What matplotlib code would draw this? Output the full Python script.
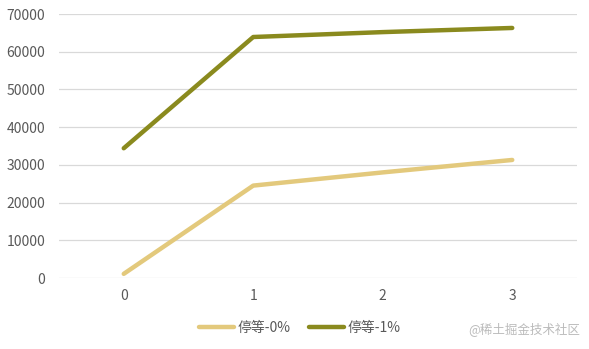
import matplotlib
matplotlib.use("Agg")
import matplotlib.pyplot as plt

plt.rcParams['font.family'] = ['Noto Sans CJK SC', 'DejaVu Sans']

x_labels = ["0", "1", "2", "3"]
stop_0 = [1100, 24500, 28000, 31300]
stop_1 = [34400, 63900, 65200, 66300]

fig = plt.figure(figsize=(5.89, 3.49), dpi=100)
ax = fig.add_axes([59 / 589, 1 - 278 / 349, (577 - 59) / 589, (278 - 14) / 349])

x = range(len(x_labels))
ax.plot(x, stop_0, color='#E3C97C', lw=3.2, solid_capstyle='round', label='停等-0%')
ax.plot(x, stop_1, color='#8A8A1E', lw=3.2, solid_capstyle='round', label='停等-1%')

ax.set_xlim(-0.5, 3.5)
ax.set_ylim(0, 70000)
ax.set_yticks(range(0, 70001, 10000))
ax.set_xticks(list(x))
ax.set_xticklabels(x_labels)
ax.grid(axis='y', color='#D9D9D9', lw=0.9)
ax.set_axisbelow(True)
for s in ax.spines.values():
    s.set_visible(False)
ax.tick_params(length=0, labelsize=10, colors='#595959', pad=8)
ax.tick_params(axis='y', pad=10)

fig.legend(loc='center', bbox_to_anchor=(300 / 589, 1 - 328 / 349), ncol=2, frameon=False,
           fontsize=10, labelcolor='#595959', handlelength=2.5, handletextpad=0.3, columnspacing=1.3)

fig.text(0.985, 1 - 329 / 349, '@稀土掘金技术社区', ha='right', va='center', fontsize=9, color='#BBBBBB')

fig.savefig('out.png', dpi=100)
